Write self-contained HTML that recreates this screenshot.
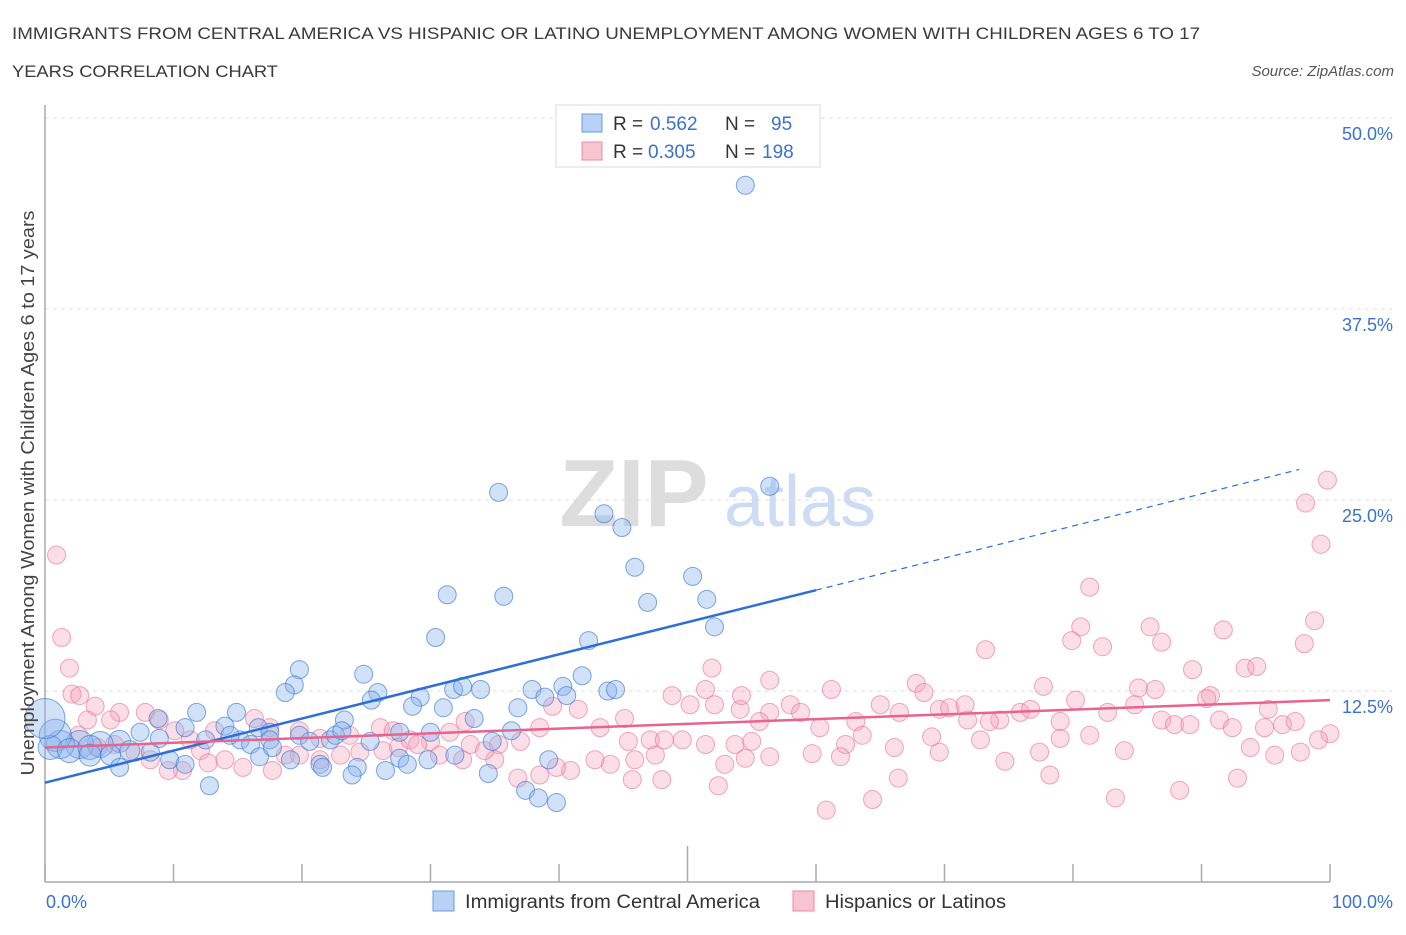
<!DOCTYPE html>
<html><head><meta charset="utf-8"><style>
body{margin:0;background:#fff;font-family:"Liberation Sans",sans-serif;}
svg text{font-family:"Liberation Sans",sans-serif;}
</style></head><body>
<svg id="chart" width="1406" height="930" viewBox="0 0 1406 930" xmlns="http://www.w3.org/2000/svg">
<text x="12" y="39" font-size="17" fill="#3a3a3a" textLength="1188" lengthAdjust="spacingAndGlyphs">IMMIGRANTS FROM CENTRAL AMERICA VS HISPANIC OR LATINO UNEMPLOYMENT AMONG WOMEN WITH CHILDREN AGES 6 TO 17</text>
<text x="12" y="77" font-size="17" fill="#3a3a3a" textLength="266" lengthAdjust="spacingAndGlyphs">YEARS CORRELATION CHART</text>
<text x="1394" y="76" font-size="15" fill="#555" font-style="italic" text-anchor="end">Source: ZipAtlas.com</text>
<g>
<text x="634" y="526" font-size="96" fill="#d0d0d0" text-anchor="middle" font-family="Liberation Serif" font-weight="bold" opacity="0.7">ZIP</text>
<text x="800" y="526" font-size="72" fill="#b8cef0" text-anchor="middle" opacity="0.7">atlas</text>
</g>
<g id="grid"></g>
<g id="axes"></g>
<g id="pinkPts"></g>
<g id="bluePts"></g>
<g id="trends"></g>
<text transform="translate(34,493) rotate(-90)" font-size="18" fill="#444" text-anchor="middle" textLength="565" lengthAdjust="spacingAndGlyphs">Unemployment Among Women with Children Ages 6 to 17 years</text>
<g>
<rect x="556" y="105" width="264" height="62" fill="#fff" stroke="#ddd"/>
<rect x="582" y="114" width="20" height="18" fill="#b8d2f5" stroke="#6a9be0"/>
<rect x="582" y="142" width="20" height="18" fill="#f9c4d2" stroke="#ec8aa6"/>
<text x="613" y="130" font-size="19" fill="#333">R = </text><text x="650" y="130" font-size="19" fill="#3a72d0">0.562</text>
<text x="725" y="130" font-size="19" fill="#333">N = </text><text x="771" y="130" font-size="19" fill="#3a72d0">95</text>
<text x="613" y="158" font-size="19" fill="#333">R = </text><text x="648" y="158" font-size="19" fill="#3a72d0">0.305</text>
<text x="725" y="158" font-size="19" fill="#333">N = </text><text x="762" y="158" font-size="19" fill="#3a72d0">198</text>
</g>
<g>
<rect x="433" y="891" width="21" height="20" fill="#b8d2f5" stroke="#6a9be0"/>
<text x="465" y="908" font-size="19" fill="#333" textLength="295" lengthAdjust="spacingAndGlyphs">Immigrants from Central America</text>
<rect x="793" y="891" width="21" height="20" fill="#f9c4d2" stroke="#ec8aa6"/>
<text x="825" y="908" font-size="19" fill="#333" textLength="181" lengthAdjust="spacingAndGlyphs">Hispanics or Latinos</text>
</g>
</svg>
<script>
const yTicks=[12.5,25,37.5,50];
const yTickLabels=["12.5%","25.0%","37.5%","50.0%"];
const xTicks=[0,10,20,30,40,50,60,70,80,90,100];
const blueX=[54.5,56.4,35.3,43.5,44.9,45.9,50.4,46.9,51.5,52.1,31.3,35.7,30.4,42.3,19.8,24.8,19.4,18.7,25.9,25.4,31.8,32.5,33.9,29.2,37.9,38.9,40.3,40.6,41.8,43.8,44.4,36.8,31.0,28.6,33.4,23.3,11.8,14.9,8.8,10.9,14.0,16.6,17.5,19.8,22.2,22.6,27.6,30.0,36.3,34.8,7.4,5.8,4.3,2.7,1.2,0.8,0.4,1.9,3.5,5.1,6.6,8.2,9.7,10.9,12.5,15.2,16.0,17.5,19.1,21.4,21.6,24.3,26.5,27.6,28.2,29.8,31.9,34.5,39.2,37.4,38.4,39.8,12.8,5.8,8.9,14.4,20.6,23.1,25.3,16.7,17.7,3.5,0,23.9];
const blueY=[45.6,25.9,25.5,24.1,23.2,20.6,20.0,18.3,18.5,16.7,18.8,18.7,16.0,15.8,13.9,13.6,12.9,12.4,12.4,11.9,12.6,12.8,12.6,12.1,12.6,12.1,12.8,12.2,13.5,12.5,12.6,11.4,11.4,11.5,10.7,10.6,11.1,11.1,10.7,10.1,10.2,10.1,9.8,9.6,9.3,9.6,9.8,9.8,9.9,9.2,9.8,9.2,9.0,9.0,9.0,9.6,8.8,8.6,8.8,8.3,8.6,8.5,8.0,7.7,9.3,9.3,9.0,9.3,8.0,7.7,7.5,7.5,7.3,8.1,7.7,8.0,8.3,7.1,8.0,6.0,5.5,5.2,6.3,7.5,9.4,9.6,9.2,9.9,9.2,8.2,8.8,8.3,10.7,7.0];
const blueSize=[9,9,9,9,9,9,9,9,9,9,9,9,9,9,9,9,9,9,9,9,9,9,9,9,9,9,9,9,9,9,9,9,9,9,9,9,9,9,9,9,9,9,9,9,9,9,9,9,9,9,9,11,13,14,14,16,12,12,12,10,10,9,9,9,9,9,9,9,9,9,9,9,9,9,9,9,9,9,9,9,9,9,9,9,9,9,9,9,9,9,9,11,20,9];
const pinkX=[99.8,98.1,99.3,0.9,81.3,1.3,98.8,86.0,91.7,80.6,79.9,82.3,86.9,98.0,73.2,89.3,93.4,94.3,1.9,67.8,68.4,61.2,77.7,85.1,86.4,90.7,90.4,80.2,2.1,2.7,3.9,5.8,7.8,8.9,3.3,5.1,10.1,11.3,12.1,13.2,16.3,17.5,19.8,21.4,23.7,26.1,27.1,28.4,30.0,31.5,32.7,33.1,35.3,37.0,38.5,39.5,41.5,43.2,45.1,45.4,47.1,48.2,50.2,51.4,52.1,54.1,56.4,58.0,58.8,60.3,63.1,65.0,66.5,69.6,70.4,71.8,74.3,75.9,76.7,79.0,82.7,84.8,86.9,87.9,89.1,91.4,92.4,94.9,96.3,97.3,48.8,51.9,54.2,56.4,55.6,53.7,54.5,52.9,51.4,49.6,47.5,45.9,44.0,42.8,40.9,39.8,38.5,36.8,35.0,34.2,32.5,30.7,29.0,27.5,26.3,24.5,23.0,21.4,19.8,18.7,17.7,15.4,14.0,12.7,10.7,9.6,8.2,7.0,5.4,4.1,2.6,100,95.7,93.8,92.8,88.3,83.3,84.0,81.3,79.0,78.2,77.4,74.7,72.8,69.6,69.0,66.1,64.4,63.6,62.3,61.9,59.7,56.4,55.0,52.4,48.0,45.7,60.8,66.4,97.7,99.1,95.2,71.6,73.5];
const pinkY=[26.3,24.8,22.1,21.4,19.3,16.0,17.1,16.7,16.5,16.7,15.8,15.4,15.7,15.6,15.2,13.9,14.0,14.1,14.0,13.0,12.4,12.6,12.8,12.7,12.6,12.2,12.0,11.9,12.3,12.2,11.5,11.1,11.1,10.6,10.6,10.6,9.9,9.3,8.6,9.9,10.7,10.1,9.9,9.4,9.6,10.1,9.9,9.3,9.2,9.8,10.5,9.0,9.0,9.2,10.1,11.5,11.3,10.1,10.7,9.2,9.3,9.3,11.6,12.6,11.6,11.3,11.1,11.6,11.1,10.1,10.5,11.6,11.1,11.3,11.4,10.6,10.6,11.1,11.3,10.5,11.1,11.6,10.6,10.3,10.3,10.6,10.1,10.1,10.3,10.5,12.2,14.0,12.2,13.2,10.5,9.0,8.1,7.7,9.0,9.3,8.3,8.0,7.7,8.0,7.3,7.5,7.0,6.8,8.0,8.6,8.0,8.3,9.0,8.8,8.6,8.5,8.3,8.0,8.3,8.3,7.3,7.5,8.0,7.8,7.3,7.3,8.0,8.5,9.0,8.8,9.6,9.7,8.3,8.8,6.8,6.0,5.5,8.6,9.6,9.4,7.0,8.5,7.9,9.3,8.5,9.5,8.8,5.4,9.6,9.0,8.2,8.4,8.2,9.2,6.3,6.7,6.7,4.7,6.8,8.5,9.3,11.3,11.6,10.5];
const blueTrend=[6.5,0.21];
const pinkTrend=[8.8,0.031];

const NS="http://www.w3.org/2000/svg";
const X0=45,X1=1330,Y0=882,YPX=15.28;
const sx=v=>X0+(X1-X0)*v/100;
const sy=v=>Y0-v*YPX;
function mk(tag,attrs,parent){const e=document.createElementNS(NS,tag);for(const k in attrs)e.setAttribute(k,attrs[k]);parent.appendChild(e);return e;}
const grid=document.getElementById('grid'),axes=document.getElementById('axes');
yTicks.forEach((t,i)=>{
  const l=mk('line',{x1:X0,x2:1392,y1:sy(t),y2:sy(t),stroke:'#dcdcdc','stroke-dasharray':'4,4'},grid);
  
  
  const tx=mk('text',{x:1393,y:sy(t)+22,'font-size':18,fill:'#3a72d0','text-anchor':'end'},grid);
  tx.textContent=yTickLabels[i];
  
  
});
const ya=mk('line',{x1:X0,x2:X0,y1:105,y2:Y0,stroke:'#aaa','stroke-width':1.5},axes);


const xa=mk('line',{x1:X0,x2:X1,y1:Y0,y2:Y0,stroke:'#aaa','stroke-width':1.5},axes);


xTicks.forEach(t=>{
  const tk=mk('line',{x1:sx(t),x2:sx(t),y1:t==50?846:864,y2:Y0,stroke:'#aaa','stroke-width':1.5},axes);
  
  
});
const xl0=mk('text',{x:46,y:908,'font-size':18,fill:'#3a72d0'},axes);xl0.textContent='0.0%';


const xl1=mk('text',{x:1393,y:908,'font-size':18,fill:'#3a72d0','text-anchor':'end'},axes);xl1.textContent='100.0%';



const pg=document.getElementById('pinkPts');
pinkX.forEach((x,i)=>{
  const c=mk('circle',{cx:sx(x),cy:sy(pinkY[i]),r:9,fill:'rgba(244,160,184,0.35)',stroke:'rgba(232,110,145,0.6)','stroke-width':1},pg);
  
  
});
const bg=document.getElementById('bluePts');
blueX.forEach((x,i)=>{
  const c=mk('circle',{cx:sx(x),cy:sy(blueY[i]),r:blueSize[i],fill:'rgba(140,180,238,0.4)',stroke:'rgba(60,120,210,0.65)','stroke-width':1},bg);
  
  
});
const tg=document.getElementById('trends');
const bt=v=>blueTrend[0]+blueTrend[1]*v, pt=v=>pinkTrend[0]+pinkTrend[1]*v;
const l1=mk('line',{x1:sx(0),y1:sy(bt(0)),x2:sx(60),y2:sy(bt(60)),stroke:'#2d6fd6','stroke-width':2.5},tg);


const l2=mk('line',{x1:sx(60),y1:sy(bt(60)),x2:sx(97.6),y2:sy(bt(97.6)),stroke:'#2d6fd6','stroke-width':1.2,'stroke-dasharray':'6,5'},tg);


const l3=mk('line',{x1:sx(0),y1:sy(pt(0)),x2:sx(100),y2:sy(pt(100)),stroke:'#e8648e','stroke-width':2.5},tg);


</script>
</body></html>
